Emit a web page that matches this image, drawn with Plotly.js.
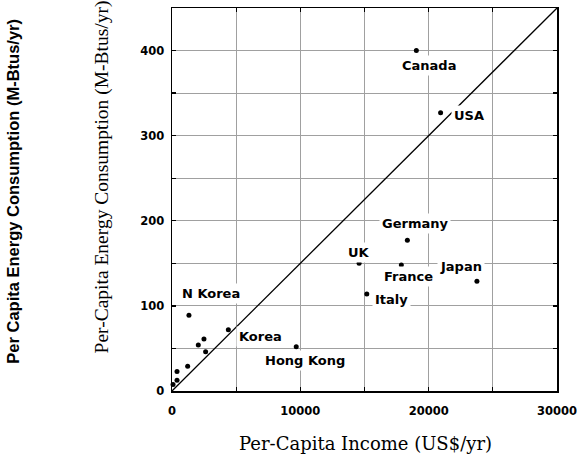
<!DOCTYPE html>
<html>
<head>
<meta charset="utf-8">
<script src="https://cdn.plot.ly/plotly-3.0.1.min.js"></script>
<style>html,body{margin:0;padding:0;background:#fff;}</style>
</head>
<body>
<div id="chart" style="width:577px;height:454px;"></div>
<script>
// Data
var countries = ["Canada", "USA", "Germany", "UK", "France", "Japan", "Italy", "N Korea", "Korea", "Hong Kong", "", "", "", "", "", "", ""];
var income    = [19040, 20930, 18340, 14580, 17870, 23760, 15180, 1320, 4390, 9680, 2050, 2490, 2620, 1220, 390, 390, 80];
var energy    = [400, 327, 177, 150, 148, 129, 114, 89, 72, 52, 54, 61, 46, 29, 23, 12.5, 7.5];
var parityX   = [0, 30000];
var parityY   = [0, 450];

// Label placement (pixel offsets from each point) - styling only
var labelShift = {
  "Canada": [13, -15], "USA": [28, -3], "Germany": [8, 17], "UK": [0, 11],
  "France": [7, -11], "Japan": [-16, 15], "Italy": [25, -6], "N Korea": [22, 22],
  "Korea": [32, -7], "Hong Kong": [9, -14]
};

var sansBold = {family: "DejaVu Sans", size: 13, color: "#000", weight: "bold"};

var traces = [
  {x: parityX, y: parityY, mode: "lines", type: "scatter",
   line: {color: "#000", width: 1.3}, hoverinfo: "skip", cliponaxis: true},
  {x: income, y: energy, mode: "markers", type: "scatter",
   marker: {color: "#000", size: 5}, cliponaxis: false}
];

var annotations = [];
for (var i = 0; i < countries.length; i++) {
  if (!countries[i]) continue;
  var s = labelShift[countries[i]];
  annotations.push({
    x: income[i], y: energy[i], xref: "x", yref: "y",
    text: countries[i], showarrow: false,
    xshift: s[0], yshift: s[1],
    font: sansBold, bgcolor: "#fff", borderpad: 2
  });
}
annotations.push({
  xref: "paper", yref: "paper", x: -0.182, y: 0.56, xanchor: "center", yanchor: "middle",
  text: "Per-Capita Energy Consumption (M-Btus/yr)", textangle: -90, showarrow: false,
  font: {family: "Liberation Serif", size: 19.5, color: "#000"}
});
annotations.push({
  xref: "paper", yref: "paper", x: -0.413, y: 0.523, xanchor: "center", yanchor: "middle",
  text: "Per Capita Energy Consumption (M-Btus/yr)", textangle: -90, showarrow: false,
  font: {family: "Liberation Sans", size: 16.5, color: "#000", weight: "bold"}
});
annotations.push({
  xref: "paper", yref: "paper", x: 0.502, y: -0.138, xanchor: "center", yanchor: "middle",
  text: "Per-Capita Income (US$/yr)", showarrow: false,
  font: {family: "DejaVu Serif", size: 18, color: "#000"}
});

var axisCommon = {
  showline: true, linecolor: "#000", linewidth: 1.5, mirror: "allticks",
  ticks: "inside", ticklen: 4, tickcolor: "#000", tickwidth: 1.3,
  showgrid: true, gridcolor: "#a0a0a0", gridwidth: 1.2, zeroline: false,
  tickformat: "d", ticklabeloverflow: "allow",
  tickfont: {family: "DejaVu Sans", size: 11.5, color: "#000", weight: "bold"}
};

var layout = {
  width: 577, height: 454,
  margin: {l: 172, r: 20, t: 8, b: 63},
  paper_bgcolor: "#fff", plot_bgcolor: "#fff",
  showlegend: false,
  xaxis: Object.assign({}, axisCommon, {
    range: [0, 30000], dtick: 10000, tick0: 0, ticklabelstandoff: 9,
    minor: {dtick: 5000, showgrid: true, gridcolor: "#a0a0a0", gridwidth: 1.2, ticks: "inside", ticklen: 4, tickcolor: "#000"}
  }),
  yaxis: Object.assign({}, axisCommon, {
    range: [0, 450], dtick: 100, tick0: 0, ticklabelstandoff: 4,
    minor: {dtick: 50, showgrid: true, gridcolor: "#a0a0a0", gridwidth: 1.2, ticks: "inside", ticklen: 4, tickcolor: "#000"}
  }),
  annotations: annotations
};

Plotly.newPlot("chart", traces, layout, {displayModeBar: false, staticPlot: true});
</script>
</body>
</html>
